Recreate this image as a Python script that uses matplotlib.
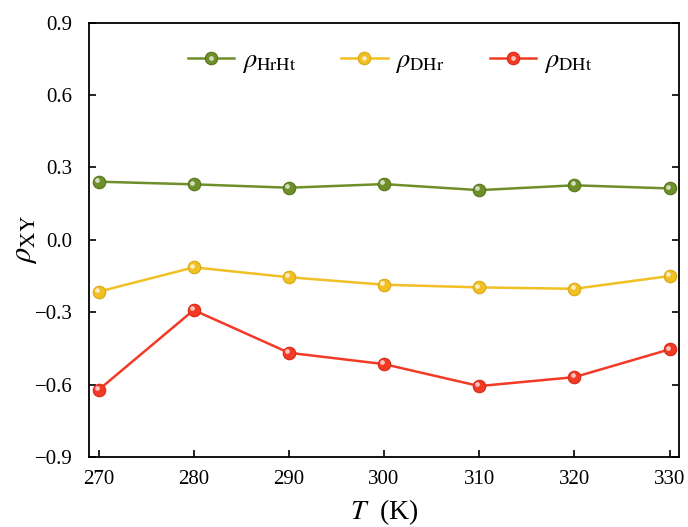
import matplotlib
matplotlib.use('Agg')
import matplotlib.pyplot as plt
import matplotlib.transforms as mtransforms
from matplotlib.legend_handler import HandlerTuple
from matplotlib.lines import Line2D

plt.rcParams['font.family'] = ['Liberation Serif', 'DejaVu Serif']
plt.rcParams['mathtext.fontset'] = 'stix'

# temperatures (K) and correlation coefficients
T = [270, 280, 290, 300, 310, 320, 330]
rho_HrHt = [0.241, 0.230, 0.216, 0.231, 0.206, 0.226, 0.213]
rho_DHr = [-0.215, -0.114, -0.155, -0.186, -0.197, -0.203, -0.150]
rho_DHt = [-0.622, -0.291, -0.468, -0.515, -0.606, -0.569, -0.454]

labels = [r'$\rho_{\mathrm{HrHt}}$', r'$\rho_{\mathrm{DHr}}$', r'$\rho_{\mathrm{DHt}}$']
colors = ['#6e8f2a', '#f0c024', '#f23a26']
edges = ['#58761c', '#d9a812', '#d92a18']

fig = plt.figure(figsize=(6.88, 5.27), dpi=100)
ax = fig.add_axes([0.1294, 0.1328, 0.8576, 0.8242])

# small highlight shifted up-left so the markers look like little balls
shift = mtransforms.offset_copy(ax.transData, fig=fig, x=-1.3, y=1.3, units='points')

handles = []
for ys, lab, c, ec in zip([rho_HrHt, rho_DHr, rho_DHt], labels, colors, edges):
    ln, = ax.plot(T, ys, '-o', color=c, lw=1.8, ms=9, mfc=c, mec=ec, mew=0.8, zorder=3)
    ax.plot(T, ys, 'o', color='white', ms=3.4, alpha=0.7, mew=0, transform=shift, zorder=4)
    hl = Line2D([], [], color='white', marker='o', ls='none', ms=3.4, alpha=0.7, mew=0)
    handles.append((ln, hl))

ax.set_xlim(269, 331)
ax.set_ylim(-0.9, 0.9)
ax.set_xticks(T)
ax.set_yticks([-0.9, -0.6, -0.3, 0.0, 0.3, 0.6, 0.9])
ax.set_yticklabels(['\u22120.9', '\u22120.6', '\u22120.3', '0.0', '0.3', '0.6', '0.9'])

ax.tick_params(axis='both', direction='in', length=5, width=1.2, labelsize=15)
ax.tick_params(axis='x', top=False, pad=9)
ax.tick_params(axis='y', right=True, left=True, pad=12)
for s in ax.spines.values():
    s.set_linewidth(1.3)

ax.set_xlabel(r'$T$  (K)', fontsize=20, labelpad=6)
ax.set_ylabel(r'$\rho_{\mathrm{XY}}$', fontsize=22, labelpad=-3)

ax.legend(handles, labels, handler_map={tuple: HandlerTuple(ndivide=1, pad=0)},
          loc='center', bbox_to_anchor=(0.51, 0.91), ncol=3, frameon=False,
          fontsize=19, handlelength=1.75, handletextpad=0.3, columnspacing=1.7)

fig.savefig('out.png', dpi=100)
